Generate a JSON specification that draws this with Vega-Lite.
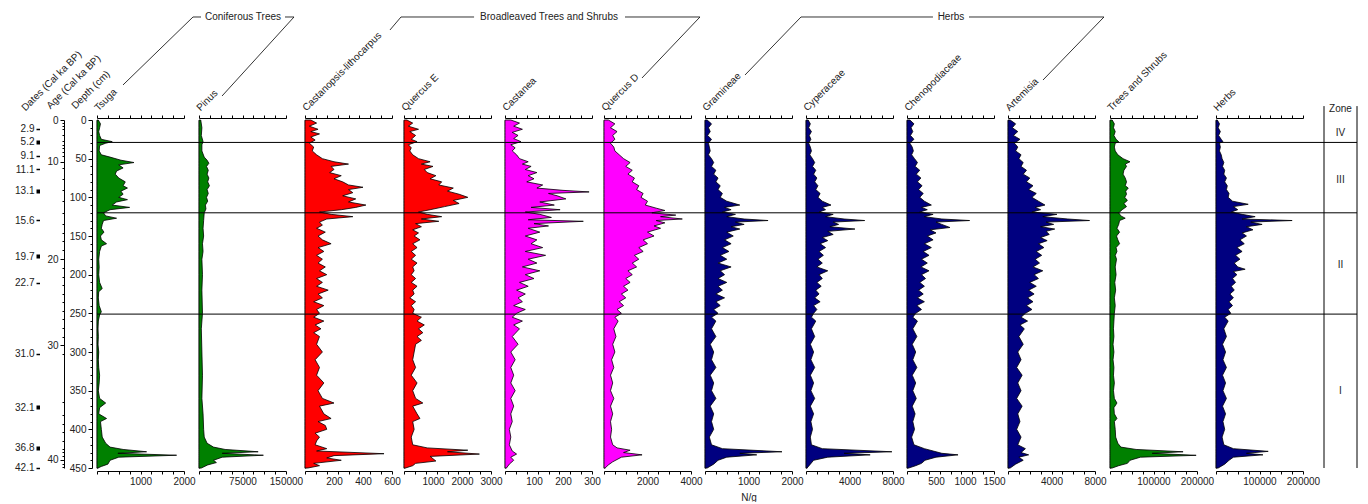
{
"$schema": "https://vega.github.io/schema/vega-lite/v6.json",
"padding": {"left": 14, "top": 11, "right": 4, "bottom": 0},
"config": {
 "view": {"stroke": null},
 "font": "Liberation Sans",
 "axis": {"grid": false, "domainColor": "#000", "tickColor": "#000", "labelFontSize": 10, "titleFontSize": 10, "titleFontWeight": "normal", "labelColor": "#222", "titleColor": "#222", "labelFont": "Liberation Sans", "titleFont": "Liberation Sans", "labelFlush": false, "labelOverlap": false, "labelPadding": 2},
 "text": {"font": "Liberation Sans", "fontSize": 10, "color": "#222"}
},
"datasets": {
 "zones": [{"z": 29}, {"z": 120}, {"z": 251}],
 "Tsuga": [{"d":0,"v":30},{"d":5,"v":80},{"d":10,"v":60},{"d":15,"v":40},{"d":20,"v":60},{"d":25,"v":100},{"d":28,"v":350},{"d":30,"v":200},{"d":33,"v":60},{"d":40,"v":50},{"d":45,"v":100},{"d":48,"v":300},{"d":52,"v":550},{"d":55,"v":850},{"d":58,"v":500},{"d":62,"v":600},{"d":66,"v":450},{"d":70,"v":420},{"d":75,"v":500},{"d":80,"v":650},{"d":85,"v":600},{"d":88,"v":700},{"d":92,"v":550},{"d":96,"v":600},{"d":100,"v":500},{"d":103,"v":700},{"d":106,"v":450},{"d":110,"v":350},{"d":113,"v":750},{"d":116,"v":300},{"d":120,"v":150},{"d":124,"v":200},{"d":127,"v":450},{"d":130,"v":150},{"d":135,"v":120},{"d":140,"v":100},{"d":145,"v":160},{"d":150,"v":80},{"d":155,"v":100},{"d":160,"v":220},{"d":163,"v":100},{"d":170,"v":60},{"d":180,"v":40},{"d":190,"v":50},{"d":200,"v":40},{"d":210,"v":60},{"d":218,"v":120},{"d":222,"v":40},{"d":230,"v":30},{"d":240,"v":50},{"d":248,"v":100},{"d":252,"v":60},{"d":260,"v":30},{"d":270,"v":20},{"d":280,"v":30},{"d":290,"v":20},{"d":300,"v":40},{"d":310,"v":30},{"d":320,"v":40},{"d":330,"v":60},{"d":340,"v":50},{"d":350,"v":30},{"d":360,"v":60},{"d":366,"v":200},{"d":372,"v":60},{"d":380,"v":40},{"d":386,"v":220},{"d":390,"v":80},{"d":400,"v":100},{"d":410,"v":120},{"d":418,"v":200},{"d":423,"v":300},{"d":426,"v":600},{"d":429,"v":1140},{"d":431,"v":480},{"d":433.5,"v":1830},{"d":436,"v":500},{"d":440,"v":300},{"d":445,"v":250},{"d":448,"v":100},{"d":450,"v":20}],
 "Pinus": [{"d":0,"v":3000},{"d":10,"v":5000},{"d":20,"v":4000},{"d":28,"v":7000},{"d":32,"v":5000},{"d":40,"v":5000},{"d":48,"v":9000},{"d":52,"v":14000},{"d":56,"v":17000},{"d":60,"v":13000},{"d":65,"v":16000},{"d":70,"v":14000},{"d":75,"v":17000},{"d":80,"v":15000},{"d":85,"v":18000},{"d":90,"v":14000},{"d":95,"v":16000},{"d":100,"v":13000},{"d":105,"v":15000},{"d":110,"v":11000},{"d":115,"v":12000},{"d":120,"v":9000},{"d":130,"v":8000},{"d":140,"v":7000},{"d":150,"v":8000},{"d":160,"v":6000},{"d":170,"v":7000},{"d":180,"v":5000},{"d":200,"v":6000},{"d":220,"v":5000},{"d":250,"v":6000},{"d":270,"v":4000},{"d":300,"v":5000},{"d":330,"v":6000},{"d":360,"v":5000},{"d":380,"v":7000},{"d":400,"v":8000},{"d":410,"v":9000},{"d":418,"v":14000},{"d":423,"v":25000},{"d":426,"v":45000},{"d":429,"v":102000},{"d":431,"v":40000},{"d":433.5,"v":111000},{"d":436,"v":40000},{"d":440,"v":25000},{"d":443,"v":30000},{"d":446,"v":15000},{"d":450,"v":4000}],
 "Castanopsis": [{"d":0,"v":40},{"d":4,"v":80},{"d":8,"v":30},{"d":12,"v":90},{"d":15,"v":40},{"d":18,"v":100},{"d":22,"v":40},{"d":26,"v":70},{"d":30,"v":30},{"d":35,"v":60},{"d":40,"v":50},{"d":45,"v":80},{"d":50,"v":120},{"d":54,"v":200},{"d":57,"v":300},{"d":60,"v":180},{"d":64,"v":200},{"d":68,"v":170},{"d":72,"v":250},{"d":76,"v":200},{"d":80,"v":260},{"d":84,"v":300},{"d":87,"v":400},{"d":90,"v":300},{"d":94,"v":330},{"d":98,"v":260},{"d":102,"v":350},{"d":106,"v":300},{"d":110,"v":420},{"d":113,"v":350},{"d":116,"v":250},{"d":119,"v":100},{"d":122,"v":180},{"d":125,"v":330},{"d":128,"v":150},{"d":132,"v":100},{"d":136,"v":120},{"d":140,"v":80},{"d":145,"v":140},{"d":150,"v":90},{"d":155,"v":120},{"d":160,"v":180},{"d":165,"v":90},{"d":170,"v":130},{"d":175,"v":80},{"d":180,"v":120},{"d":185,"v":90},{"d":190,"v":140},{"d":195,"v":100},{"d":200,"v":150},{"d":205,"v":80},{"d":210,"v":120},{"d":215,"v":80},{"d":220,"v":160},{"d":225,"v":90},{"d":230,"v":120},{"d":235,"v":60},{"d":240,"v":130},{"d":245,"v":80},{"d":250,"v":100},{"d":255,"v":60},{"d":260,"v":130},{"d":265,"v":70},{"d":270,"v":110},{"d":275,"v":60},{"d":280,"v":100},{"d":290,"v":80},{"d":300,"v":120},{"d":310,"v":70},{"d":320,"v":100},{"d":330,"v":80},{"d":340,"v":130},{"d":350,"v":90},{"d":360,"v":120},{"d":366,"v":200},{"d":370,"v":100},{"d":380,"v":130},{"d":386,"v":180},{"d":390,"v":90},{"d":395,"v":140},{"d":400,"v":150},{"d":405,"v":70},{"d":410,"v":100},{"d":415,"v":80},{"d":420,"v":70},{"d":425,"v":150},{"d":428,"v":80},{"d":431.5,"v":545},{"d":434,"v":200},{"d":437,"v":150},{"d":440,"v":250},{"d":444,"v":60},{"d":447,"v":100},{"d":450,"v":20}],
 "QuercusE": [{"d":0,"v":100},{"d":4,"v":300},{"d":8,"v":150},{"d":12,"v":500},{"d":15,"v":200},{"d":20,"v":400},{"d":25,"v":250},{"d":28,"v":450},{"d":32,"v":150},{"d":36,"v":250},{"d":40,"v":200},{"d":45,"v":300},{"d":50,"v":500},{"d":54,"v":900},{"d":57,"v":600},{"d":60,"v":1000},{"d":64,"v":700},{"d":68,"v":800},{"d":72,"v":1100},{"d":76,"v":900},{"d":80,"v":1300},{"d":84,"v":1200},{"d":88,"v":1700},{"d":92,"v":1500},{"d":96,"v":1900},{"d":100,"v":2200},{"d":104,"v":1700},{"d":108,"v":1900},{"d":112,"v":1400},{"d":116,"v":900},{"d":119,"v":500},{"d":122,"v":800},{"d":125,"v":1300},{"d":128,"v":600},{"d":131,"v":1200},{"d":134,"v":400},{"d":138,"v":600},{"d":142,"v":300},{"d":146,"v":500},{"d":150,"v":350},{"d":155,"v":550},{"d":160,"v":300},{"d":165,"v":450},{"d":170,"v":250},{"d":175,"v":400},{"d":180,"v":250},{"d":185,"v":450},{"d":190,"v":300},{"d":195,"v":350},{"d":200,"v":250},{"d":205,"v":400},{"d":210,"v":250},{"d":215,"v":450},{"d":220,"v":300},{"d":225,"v":350},{"d":230,"v":200},{"d":235,"v":400},{"d":240,"v":250},{"d":245,"v":350},{"d":250,"v":300},{"d":255,"v":600},{"d":260,"v":450},{"d":265,"v":700},{"d":270,"v":500},{"d":275,"v":650},{"d":280,"v":450},{"d":285,"v":600},{"d":290,"v":400},{"d":300,"v":350},{"d":310,"v":300},{"d":320,"v":400},{"d":330,"v":250},{"d":340,"v":450},{"d":350,"v":300},{"d":360,"v":400},{"d":366,"v":650},{"d":370,"v":300},{"d":380,"v":450},{"d":386,"v":550},{"d":390,"v":300},{"d":400,"v":350},{"d":410,"v":250},{"d":420,"v":300},{"d":424,"v":800},{"d":427,"v":2200},{"d":429,"v":1500},{"d":432,"v":2600},{"d":435,"v":900},{"d":438,"v":1000},{"d":441,"v":1100},{"d":444,"v":400},{"d":447,"v":300},{"d":450,"v":50}],
 "Castanea": [{"d":0,"v":20},{"d":4,"v":50},{"d":8,"v":30},{"d":12,"v":60},{"d":16,"v":25},{"d":20,"v":45},{"d":24,"v":30},{"d":28,"v":55},{"d":32,"v":20},{"d":36,"v":35},{"d":40,"v":25},{"d":45,"v":40},{"d":50,"v":50},{"d":54,"v":80},{"d":57,"v":60},{"d":60,"v":90},{"d":64,"v":70},{"d":68,"v":110},{"d":72,"v":80},{"d":76,"v":100},{"d":80,"v":75},{"d":84,"v":130},{"d":88,"v":110},{"d":91,"v":200},{"d":93,"v":290},{"d":95,"v":150},{"d":98,"v":180},{"d":102,"v":210},{"d":106,"v":120},{"d":110,"v":170},{"d":113,"v":90},{"d":116,"v":190},{"d":119,"v":70},{"d":122,"v":120},{"d":126,"v":160},{"d":129,"v":80},{"d":131,"v":270},{"d":134,"v":100},{"d":137,"v":150},{"d":140,"v":80},{"d":145,"v":120},{"d":150,"v":70},{"d":155,"v":110},{"d":160,"v":90},{"d":165,"v":130},{"d":170,"v":70},{"d":175,"v":140},{"d":180,"v":80},{"d":185,"v":110},{"d":190,"v":60},{"d":195,"v":120},{"d":200,"v":70},{"d":205,"v":100},{"d":210,"v":50},{"d":215,"v":80},{"d":220,"v":40},{"d":225,"v":70},{"d":230,"v":45},{"d":235,"v":60},{"d":240,"v":30},{"d":245,"v":70},{"d":250,"v":40},{"d":255,"v":25},{"d":260,"v":60},{"d":265,"v":30},{"d":270,"v":50},{"d":280,"v":25},{"d":290,"v":45},{"d":300,"v":20},{"d":310,"v":35},{"d":320,"v":20},{"d":330,"v":30},{"d":340,"v":20},{"d":350,"v":35},{"d":360,"v":20},{"d":370,"v":30},{"d":380,"v":20},{"d":390,"v":25},{"d":400,"v":15},{"d":410,"v":20},{"d":420,"v":15},{"d":428,"v":25},{"d":432,"v":40},{"d":436,"v":20},{"d":440,"v":30},{"d":445,"v":15},{"d":450,"v":5}],
 "QuercusD": [{"d":0,"v":200},{"d":5,"v":500},{"d":10,"v":300},{"d":15,"v":600},{"d":20,"v":400},{"d":25,"v":500},{"d":30,"v":300},{"d":35,"v":450},{"d":40,"v":500},{"d":45,"v":700},{"d":50,"v":900},{"d":55,"v":1200},{"d":60,"v":1000},{"d":65,"v":1300},{"d":70,"v":1100},{"d":75,"v":1400},{"d":80,"v":1300},{"d":85,"v":1600},{"d":90,"v":1500},{"d":95,"v":1800},{"d":100,"v":1700},{"d":105,"v":2000},{"d":110,"v":1900},{"d":114,"v":2400},{"d":117,"v":2800},{"d":120,"v":2200},{"d":123,"v":3300},{"d":125,"v":2600},{"d":128,"v":3600},{"d":130,"v":2400},{"d":133,"v":2800},{"d":137,"v":2300},{"d":140,"v":2600},{"d":145,"v":2000},{"d":150,"v":2300},{"d":155,"v":1800},{"d":160,"v":2000},{"d":165,"v":1600},{"d":170,"v":1800},{"d":175,"v":1400},{"d":180,"v":1600},{"d":185,"v":1300},{"d":190,"v":1500},{"d":195,"v":1100},{"d":200,"v":1300},{"d":205,"v":1000},{"d":210,"v":1200},{"d":215,"v":900},{"d":220,"v":1100},{"d":225,"v":800},{"d":230,"v":1000},{"d":235,"v":700},{"d":240,"v":900},{"d":245,"v":600},{"d":250,"v":800},{"d":255,"v":500},{"d":260,"v":650},{"d":270,"v":450},{"d":280,"v":550},{"d":290,"v":400},{"d":300,"v":500},{"d":310,"v":350},{"d":320,"v":450},{"d":330,"v":300},{"d":340,"v":400},{"d":350,"v":300},{"d":360,"v":450},{"d":370,"v":300},{"d":380,"v":400},{"d":390,"v":300},{"d":400,"v":350},{"d":410,"v":300},{"d":420,"v":400},{"d":424,"v":600},{"d":427,"v":1200},{"d":430,"v":900},{"d":433,"v":1750},{"d":436,"v":800},{"d":439,"v":600},{"d":442,"v":400},{"d":446,"v":200},{"d":450,"v":50}],
 "Gramineae": [{"d":0,"v":50},{"d":5,"v":150},{"d":10,"v":80},{"d":15,"v":120},{"d":20,"v":60},{"d":25,"v":150},{"d":30,"v":80},{"d":35,"v":100},{"d":40,"v":120},{"d":45,"v":80},{"d":50,"v":150},{"d":55,"v":200},{"d":60,"v":150},{"d":65,"v":250},{"d":70,"v":200},{"d":75,"v":300},{"d":80,"v":250},{"d":85,"v":350},{"d":90,"v":300},{"d":95,"v":400},{"d":100,"v":350},{"d":105,"v":500},{"d":110,"v":800},{"d":113,"v":450},{"d":116,"v":600},{"d":119,"v":400},{"d":122,"v":700},{"d":125,"v":500},{"d":128,"v":900},{"d":130,"v":1450},{"d":132,"v":700},{"d":135,"v":900},{"d":138,"v":600},{"d":141,"v":800},{"d":145,"v":500},{"d":150,"v":650},{"d":155,"v":450},{"d":160,"v":600},{"d":165,"v":400},{"d":170,"v":550},{"d":175,"v":350},{"d":180,"v":500},{"d":185,"v":300},{"d":190,"v":600},{"d":195,"v":350},{"d":200,"v":450},{"d":205,"v":300},{"d":210,"v":500},{"d":215,"v":300},{"d":220,"v":400},{"d":225,"v":250},{"d":230,"v":450},{"d":235,"v":250},{"d":240,"v":350},{"d":245,"v":200},{"d":250,"v":300},{"d":255,"v":150},{"d":260,"v":250},{"d":270,"v":150},{"d":280,"v":250},{"d":290,"v":120},{"d":300,"v":200},{"d":310,"v":150},{"d":320,"v":250},{"d":330,"v":120},{"d":340,"v":200},{"d":350,"v":150},{"d":360,"v":250},{"d":370,"v":120},{"d":380,"v":200},{"d":390,"v":150},{"d":400,"v":200},{"d":410,"v":100},{"d":420,"v":150},{"d":425,"v":400},{"d":429,"v":1770},{"d":431,"v":800},{"d":433,"v":1190},{"d":436,"v":500},{"d":440,"v":300},{"d":445,"v":200},{"d":450,"v":50}],
 "Cyperaceae": [{"d":0,"v":200},{"d":5,"v":400},{"d":10,"v":250},{"d":15,"v":500},{"d":20,"v":300},{"d":25,"v":450},{"d":30,"v":250},{"d":35,"v":400},{"d":40,"v":500},{"d":45,"v":350},{"d":50,"v":600},{"d":55,"v":800},{"d":60,"v":600},{"d":65,"v":900},{"d":70,"v":700},{"d":75,"v":1000},{"d":80,"v":800},{"d":85,"v":1100},{"d":90,"v":900},{"d":95,"v":1300},{"d":100,"v":1100},{"d":105,"v":1500},{"d":110,"v":2300},{"d":113,"v":1500},{"d":116,"v":1800},{"d":119,"v":1200},{"d":122,"v":2500},{"d":125,"v":1800},{"d":128,"v":3500},{"d":130,"v":5400},{"d":132,"v":2500},{"d":135,"v":3000},{"d":138,"v":2200},{"d":141,"v":4500},{"d":144,"v":2000},{"d":148,"v":2500},{"d":152,"v":1500},{"d":156,"v":2000},{"d":160,"v":1300},{"d":165,"v":1800},{"d":170,"v":1200},{"d":175,"v":1600},{"d":180,"v":1100},{"d":185,"v":1500},{"d":190,"v":1000},{"d":195,"v":2000},{"d":200,"v":1200},{"d":205,"v":1500},{"d":210,"v":1000},{"d":215,"v":1400},{"d":220,"v":900},{"d":225,"v":1200},{"d":230,"v":800},{"d":235,"v":1300},{"d":240,"v":700},{"d":245,"v":1000},{"d":250,"v":700},{"d":255,"v":500},{"d":260,"v":900},{"d":270,"v":500},{"d":280,"v":800},{"d":290,"v":400},{"d":300,"v":700},{"d":310,"v":450},{"d":320,"v":800},{"d":330,"v":400},{"d":340,"v":700},{"d":350,"v":450},{"d":360,"v":800},{"d":370,"v":400},{"d":380,"v":700},{"d":390,"v":450},{"d":400,"v":600},{"d":410,"v":400},{"d":420,"v":500},{"d":425,"v":1500},{"d":429,"v":7900},{"d":431,"v":3500},{"d":433,"v":5900},{"d":436,"v":2000},{"d":440,"v":700},{"d":445,"v":400},{"d":450,"v":100}],
 "Chenopodiaceae": [{"d":0,"v":50},{"d":5,"v":120},{"d":10,"v":70},{"d":15,"v":100},{"d":20,"v":60},{"d":25,"v":120},{"d":30,"v":50},{"d":35,"v":90},{"d":40,"v":110},{"d":45,"v":80},{"d":50,"v":130},{"d":55,"v":180},{"d":60,"v":140},{"d":65,"v":220},{"d":70,"v":160},{"d":75,"v":240},{"d":80,"v":180},{"d":85,"v":260},{"d":90,"v":200},{"d":95,"v":280},{"d":100,"v":220},{"d":105,"v":300},{"d":110,"v":420},{"d":113,"v":250},{"d":116,"v":350},{"d":119,"v":220},{"d":122,"v":450},{"d":125,"v":300},{"d":128,"v":600},{"d":130,"v":1080},{"d":132,"v":500},{"d":135,"v":600},{"d":139,"v":740},{"d":142,"v":400},{"d":146,"v":500},{"d":150,"v":350},{"d":155,"v":450},{"d":160,"v":300},{"d":165,"v":420},{"d":170,"v":280},{"d":175,"v":380},{"d":180,"v":250},{"d":185,"v":350},{"d":190,"v":240},{"d":195,"v":380},{"d":200,"v":250},{"d":205,"v":320},{"d":210,"v":220},{"d":215,"v":300},{"d":220,"v":200},{"d":225,"v":280},{"d":230,"v":180},{"d":235,"v":300},{"d":240,"v":170},{"d":245,"v":250},{"d":250,"v":150},{"d":255,"v":100},{"d":260,"v":180},{"d":270,"v":100},{"d":280,"v":170},{"d":290,"v":90},{"d":300,"v":150},{"d":310,"v":100},{"d":320,"v":170},{"d":330,"v":90},{"d":340,"v":150},{"d":350,"v":100},{"d":360,"v":160},{"d":370,"v":90},{"d":380,"v":140},{"d":390,"v":100},{"d":400,"v":130},{"d":410,"v":80},{"d":420,"v":120},{"d":425,"v":300},{"d":428,"v":450},{"d":431,"v":600},{"d":433,"v":880},{"d":436,"v":500},{"d":440,"v":310},{"d":444,"v":250},{"d":447,"v":150},{"d":450,"v":30}],
 "Artemisia": [{"d":0,"v":200},{"d":5,"v":700},{"d":10,"v":400},{"d":15,"v":900},{"d":20,"v":500},{"d":25,"v":1100},{"d":30,"v":600},{"d":35,"v":900},{"d":40,"v":700},{"d":45,"v":1200},{"d":50,"v":1000},{"d":55,"v":1400},{"d":60,"v":1200},{"d":65,"v":1700},{"d":70,"v":1400},{"d":75,"v":2000},{"d":80,"v":1700},{"d":85,"v":2300},{"d":90,"v":1900},{"d":95,"v":2600},{"d":100,"v":2200},{"d":105,"v":2800},{"d":110,"v":3400},{"d":113,"v":2500},{"d":116,"v":3000},{"d":119,"v":2200},{"d":122,"v":4500},{"d":125,"v":3200},{"d":128,"v":5500},{"d":130,"v":7500},{"d":132,"v":3500},{"d":135,"v":4200},{"d":138,"v":3000},{"d":141,"v":4300},{"d":144,"v":3500},{"d":148,"v":3800},{"d":152,"v":3000},{"d":156,"v":3600},{"d":160,"v":2800},{"d":165,"v":3300},{"d":170,"v":2600},{"d":175,"v":3100},{"d":180,"v":2500},{"d":185,"v":2900},{"d":190,"v":2300},{"d":195,"v":3200},{"d":200,"v":2400},{"d":205,"v":2800},{"d":210,"v":2000},{"d":215,"v":2600},{"d":220,"v":1900},{"d":225,"v":2400},{"d":230,"v":1800},{"d":235,"v":2300},{"d":240,"v":1700},{"d":245,"v":2200},{"d":250,"v":1600},{"d":255,"v":1200},{"d":260,"v":1800},{"d":265,"v":1100},{"d":270,"v":1500},{"d":280,"v":1000},{"d":290,"v":1400},{"d":300,"v":900},{"d":310,"v":1200},{"d":320,"v":800},{"d":330,"v":1300},{"d":340,"v":900},{"d":350,"v":1200},{"d":360,"v":800},{"d":370,"v":1300},{"d":380,"v":900},{"d":390,"v":1100},{"d":400,"v":800},{"d":410,"v":1200},{"d":420,"v":900},{"d":425,"v":1600},{"d":430,"v":1200},{"d":433,"v":1900},{"d":436,"v":1000},{"d":440,"v":1400},{"d":445,"v":700},{"d":450,"v":200}],
 "TreesShrubs": [{"d":0,"v":5000},{"d":5,"v":10000},{"d":10,"v":8000},{"d":15,"v":12000},{"d":20,"v":9000},{"d":25,"v":14000},{"d":28,"v":20000},{"d":30,"v":12000},{"d":35,"v":10000},{"d":40,"v":12000},{"d":45,"v":18000},{"d":50,"v":30000},{"d":54,"v":46000},{"d":57,"v":35000},{"d":60,"v":38000},{"d":65,"v":32000},{"d":70,"v":30000},{"d":75,"v":35000},{"d":80,"v":38000},{"d":85,"v":35000},{"d":88,"v":42000},{"d":92,"v":36000},{"d":96,"v":38000},{"d":100,"v":34000},{"d":104,"v":40000},{"d":108,"v":32000},{"d":112,"v":38000},{"d":116,"v":28000},{"d":120,"v":20000},{"d":124,"v":25000},{"d":127,"v":35000},{"d":130,"v":22000},{"d":135,"v":20000},{"d":140,"v":16000},{"d":145,"v":22000},{"d":150,"v":15000},{"d":155,"v":18000},{"d":160,"v":22000},{"d":165,"v":14000},{"d":170,"v":16000},{"d":175,"v":12000},{"d":180,"v":15000},{"d":190,"v":12000},{"d":200,"v":14000},{"d":210,"v":11000},{"d":220,"v":13000},{"d":230,"v":10000},{"d":240,"v":12000},{"d":250,"v":10000},{"d":260,"v":9000},{"d":270,"v":8000},{"d":280,"v":9000},{"d":290,"v":7000},{"d":300,"v":9000},{"d":310,"v":7000},{"d":320,"v":9000},{"d":330,"v":8000},{"d":340,"v":10000},{"d":350,"v":8000},{"d":360,"v":10000},{"d":366,"v":16000},{"d":372,"v":9000},{"d":380,"v":10000},{"d":386,"v":16000},{"d":390,"v":10000},{"d":400,"v":12000},{"d":410,"v":13000},{"d":418,"v":18000},{"d":423,"v":25000},{"d":426,"v":60000},{"d":429,"v":168000},{"d":431,"v":97000},{"d":433.6,"v":198000},{"d":436,"v":70000},{"d":440,"v":46000},{"d":444,"v":40000},{"d":447,"v":20000},{"d":450,"v":5000}],
 "Herbs": [{"d":0,"v":3000},{"d":5,"v":8000},{"d":10,"v":5000},{"d":15,"v":10000},{"d":20,"v":6000},{"d":25,"v":12000},{"d":28,"v":16000},{"d":30,"v":8000},{"d":35,"v":10000},{"d":40,"v":8000},{"d":45,"v":12000},{"d":50,"v":14000},{"d":55,"v":18000},{"d":60,"v":15000},{"d":65,"v":20000},{"d":70,"v":18000},{"d":75,"v":24000},{"d":80,"v":20000},{"d":85,"v":26000},{"d":90,"v":24000},{"d":95,"v":30000},{"d":100,"v":28000},{"d":105,"v":38000},{"d":109,"v":74000},{"d":112,"v":40000},{"d":116,"v":50000},{"d":119,"v":35000},{"d":122,"v":60000},{"d":125,"v":90000},{"d":128,"v":60000},{"d":130,"v":175000},{"d":132,"v":80000},{"d":135,"v":106000},{"d":138,"v":70000},{"d":142,"v":85000},{"d":146,"v":60000},{"d":150,"v":70000},{"d":155,"v":55000},{"d":160,"v":65000},{"d":165,"v":48000},{"d":170,"v":60000},{"d":175,"v":45000},{"d":180,"v":55000},{"d":185,"v":42000},{"d":190,"v":50000},{"d":193,"v":67000},{"d":196,"v":40000},{"d":200,"v":48000},{"d":205,"v":38000},{"d":210,"v":45000},{"d":215,"v":35000},{"d":220,"v":42000},{"d":225,"v":32000},{"d":230,"v":40000},{"d":235,"v":30000},{"d":240,"v":38000},{"d":245,"v":28000},{"d":250,"v":34000},{"d":255,"v":20000},{"d":260,"v":28000},{"d":270,"v":18000},{"d":280,"v":24000},{"d":290,"v":15000},{"d":300,"v":22000},{"d":310,"v":16000},{"d":320,"v":24000},{"d":330,"v":15000},{"d":340,"v":22000},{"d":350,"v":16000},{"d":360,"v":24000},{"d":370,"v":15000},{"d":380,"v":22000},{"d":390,"v":16000},{"d":400,"v":20000},{"d":410,"v":14000},{"d":420,"v":18000},{"d":425,"v":40000},{"d":428.5,"v":120000},{"d":431,"v":70000},{"d":433,"v":108000},{"d":436,"v":40000},{"d":440,"v":30000},{"d":445,"v":20000},{"d":450,"v":5000}]
},
"spacing": 0,
"bounds": "flush",
"hconcat": [
 {"width": 102, "height": 348, "data": {"name": "Tsuga"},
  "layer": [
   {"mark": {"type": "area", "orient": "horizontal", "color": "#008000", "stroke": "black", "strokeWidth": 0.8},
    "encoding": {
     "x": {"field": "v", "type": "quantitative", "stack": null, "scale": {"domain": [0, 2000], "range": [0, 87], "nice": false}, "axis": {"orient": "bottom", "offset": 3, "values": [0,250,500,750,1000,1250,1500,1750,2000], "labels": false, "tickSize": 3, "title": null}},
     "y": {"field": "d", "type": "quantitative", "scale": {"domain": [0, 450], "reverse": true, "nice": false, "zero": false}, "axis": {"orient": "left", "offset": 5, "values": [0,10,20,30,40,50,60,70,80,90,100,110,120,130,140,150,160,170,180,190,200,210,220,230,240,250,260,270,280,290,300,310,320,330,340,350,360,370,380,390,400,410,420,430,440,450], "labelExpr": "datum.value % 50 === 0 ? datum.label : ''", "tickSize": {"condition": {"test": "datum.value % 50 === 0", "value": 4}, "value": 2}, "title": "Depth (cm)", "titleAngle": -45, "titleAlign": "left", "titleBaseline": "alphabetic", "titleX": -17, "titleY": -11}}}},
   {"mark": {"type": "point", "opacity": 0},
    "encoding": {
     "x": {"field": "v", "type": "quantitative", "scale": {"domain": [0, 2000], "range": [0, 87], "nice": false}, "axis": {"orient": "bottom", "offset": 3, "values": [1000, 2000], "domain": false, "tickOpacity": 0, "tickSize": 3, "format": "d", "title": null}},
     "y": {"field": "d", "type": "quantitative", "scale": {"domain": [0, 450], "reverse": true, "nice": false, "zero": false}, "axis": {"orient": "left", "offset": 33, "values": [0,4,7.9,12.2,19.4,26.6,31.8,36.5,41.3,46,54.2,62.7,76.1,90.1,105.2,120.4,134.1,145.5,157,168.5,179.9,191.2,202.6,213.8,224.8,235.9,246.9,257.9,268.9,280,291,302,365.2,381.5,392.7,403.9,415.1,425,429.8,434.6,439.4,444.2,449], "labelExpr": "indexof([0,54.2,179.9,291,439.4], datum.value) >= 0 ? '' + 10 * indexof([0,54.2,179.9,291,439.4], datum.value) : ''", "tickSize": {"condition": {"test": "indexof([0,54.2,179.9,291,439.4], datum.value) >= 0", "value": 4}, "value": 2}, "title": "Age (Cal ka BP)", "titleAngle": -45, "titleAlign": "left", "titleBaseline": "alphabetic", "titleX": -14, "titleY": -11}}}},
   {"mark": {"type": "point", "opacity": 0},
    "encoding": {
     "x": {"field": "v", "type": "quantitative", "scale": {"domain": [0, 2000], "range": [0, 87], "nice": false}, "axis": {"orient": "top", "offset": 2, "values": [0,250,500,750,1000,1250,1500,1750,2000], "labels": false, "tickSize": 3, "title": "Tsuga", "titleAngle": -45, "titleAlign": "left", "titleBaseline": "alphabetic", "titleX": 1, "titleY": -7}},
     "y": {"field": "d", "type": "quantitative", "scale": {"domain": [0, 450], "reverse": true, "nice": false, "zero": false}, "axis": {"orient": "left", "offset": 57.5, "domain": false, "values": [11.5,28,46.5,63.5,91.5,129.5,176.5,210.5,302,371.5,424,449.5], "labelExpr": "['2.9','5.2','9.1','11.1','13.1','15.6','19.7','22.7','31.0','32.1','36.8','42.1'][indexof([11.5,28,46.5,63.5,91.5,129.5,176.5,210.5,302,371.5,424,449.5], datum.value)]", "tickSize": 3.5, "tickWidth": {"condition": {"test": "indexof([28,91.5,176.5,371.5,424], datum.value) >= 0", "value": 4}, "value": 1.5}, "title": "Dates (Cal ka BP)", "titleAngle": -45, "titleAlign": "left", "titleBaseline": "alphabetic", "titleX": -14.5, "titleY": -9}}}},
   {"data": {"name": "zones"}, "mark": {"type": "rule", "color": "black", "strokeWidth": 1},
    "encoding": {"y": {"field": "z", "type": "quantitative", "scale": {"domain": [0, 450], "reverse": true, "nice": false, "zero": false}, "axis": {"orient": "left", "domainWidth": 1.5, "ticks": false, "labels": false, "title": null}}}},
   {"data": {"values": [{"g":1,"o":1,"x":598,"y":-45.3},{"g":1,"o":2,"x":2207,"y":-133.2},{"g":1,"o":3,"x":2391,"y":-133.2},{"g":2,"o":1,"x":4322,"y":-133.2},{"g":2,"o":2,"x":4529,"y":-133.2},{"g":2,"o":3,"x":2874,"y":-31}]},
    "mark": {"type": "line", "color": "black", "strokeWidth": 0.8},
    "encoding": {"x": {"field": "x", "type": "quantitative", "scale": {"domain": [0, 2000], "range": [0, 87], "nice": false}, "axis": null}, "y": {"field": "y", "type": "quantitative", "scale": {"domain": [0, 450], "reverse": true, "nice": false, "zero": false}, "axis": null}, "detail": {"field": "g"}, "order": {"field": "o"}}},
   {"data": {"values": [{"x": 3356, "y": -133.2, "t": "Coniferous Trees"}]},
    "mark": {"type": "text", "align": "center", "baseline": "middle"},
    "encoding": {"x": {"field": "x", "type": "quantitative", "scale": {"domain": [0, 2000], "range": [0, 87], "nice": false}, "axis": null}, "y": {"field": "y", "type": "quantitative", "scale": {"domain": [0, 450], "reverse": true, "nice": false, "zero": false}, "axis": null}, "text": {"field": "t"}}}
  ],
  "resolve": {"axis": {"x": "independent", "y": "independent"}}},

 {"width": 106, "height": 348, "data": {"name": "Pinus"},
  "layer": [
   {"mark": {"type": "area", "orient": "horizontal", "color": "#008000", "stroke": "black", "strokeWidth": 0.8},
    "encoding": {"x": {"field": "v", "type": "quantitative", "stack": null, "scale": {"domain": [0, 150000], "range": [0, 87], "nice": false}, "axis": {"orient": "bottom", "offset": 3, "values": [0,18750,37500,56250,75000,93750,112500,131250,150000], "labels": false, "tickSize": 3, "title": null}},
     "y": {"field": "d", "type": "quantitative", "scale": {"domain": [0, 450], "reverse": true, "nice": false, "zero": false}, "axis": {"orient": "left", "domainWidth": 1.5, "ticks": false, "labels": false, "title": null}}}},
   {"mark": {"type": "point", "opacity": 0},
    "encoding": {"x": {"field": "v", "type": "quantitative", "scale": {"domain": [0, 150000], "range": [0, 87], "nice": false}, "axis": {"orient": "bottom", "offset": 3, "values": [75000, 150000], "domain": false, "tickOpacity": 0, "tickSize": 3, "format": "d", "title": null}},
     "y": {"field": "d", "type": "quantitative", "scale": {"domain": [0, 450], "reverse": true, "nice": false, "zero": false}, "axis": null}}},
   {"mark": {"type": "point", "opacity": 0},
    "encoding": {"x": {"field": "v", "type": "quantitative", "scale": {"domain": [0, 150000], "range": [0, 87], "nice": false}, "axis": {"orient": "top", "offset": 2, "values": [0,18750,37500,56250,75000,93750,112500,131250,150000], "labels": false, "tickSize": 3, "title": "Pinus", "titleAngle": -45, "titleAlign": "left", "titleBaseline": "alphabetic", "titleX": 1, "titleY": -7}},
     "y": {"field": "d", "type": "quantitative", "scale": {"domain": [0, 450], "reverse": true, "nice": false, "zero": false}, "axis": null}}},
   {"data": {"name": "zones"}, "mark": {"type": "rule", "color": "black", "strokeWidth": 1},
    "encoding": {"y": {"field": "z", "type": "quantitative", "scale": {"domain": [0, 450], "reverse": true, "nice": false, "zero": false}, "axis": null}}}
  ],
  "resolve": {"axis": {"x": "independent", "y": "independent"}}},

 {"width": 99, "height": 348, "data": {"name": "Castanopsis"},
  "layer": [
   {"mark": {"type": "area", "orient": "horizontal", "color": "#ff0000", "stroke": "black", "strokeWidth": 0.8},
    "encoding": {"x": {"field": "v", "type": "quantitative", "stack": null, "scale": {"domain": [0, 600], "range": [0, 87], "nice": false}, "axis": {"orient": "bottom", "offset": 3, "values": [0,75,150,225,300,375,450,525,600], "labels": false, "tickSize": 3, "title": null}},
     "y": {"field": "d", "type": "quantitative", "scale": {"domain": [0, 450], "reverse": true, "nice": false, "zero": false}, "axis": {"orient": "left", "domainWidth": 1.5, "ticks": false, "labels": false, "title": null}}}},
   {"mark": {"type": "point", "opacity": 0},
    "encoding": {"x": {"field": "v", "type": "quantitative", "scale": {"domain": [0, 600], "range": [0, 87], "nice": false}, "axis": {"orient": "bottom", "offset": 3, "values": [200, 400, 600], "domain": false, "tickOpacity": 0, "tickSize": 3, "format": "d", "title": null}},
     "y": {"field": "d", "type": "quantitative", "scale": {"domain": [0, 450], "reverse": true, "nice": false, "zero": false}, "axis": null}}},
   {"mark": {"type": "point", "opacity": 0},
    "encoding": {"x": {"field": "v", "type": "quantitative", "scale": {"domain": [0, 600], "range": [0, 87], "nice": false}, "axis": {"orient": "top", "offset": 2, "values": [0,75,150,225,300,375,450,525,600], "labels": false, "tickSize": 3, "title": "Castanopsis-lithocarpus", "titleAngle": -45, "titleAlign": "left", "titleBaseline": "alphabetic", "titleX": 1, "titleY": -7}},
     "y": {"field": "d", "type": "quantitative", "scale": {"domain": [0, 450], "reverse": true, "nice": false, "zero": false}, "axis": null}}},
   {"data": {"name": "zones"}, "mark": {"type": "rule", "color": "black", "strokeWidth": 1},
    "encoding": {"y": {"field": "z", "type": "quantitative", "scale": {"domain": [0, 450], "reverse": true, "nice": false, "zero": false}, "axis": null}}},
   {"data": {"values": [{"g":1,"o":1,"x":586,"y":-116.4},{"g":1,"o":2,"x":662,"y":-133.2},{"g":1,"o":3,"x":1166,"y":-133.2},{"g":2,"o":1,"x":2207,"y":-133.2},{"g":2,"o":2,"x":2724,"y":-133.2},{"g":2,"o":3,"x":2324,"y":-54.3}]},
    "mark": {"type": "line", "color": "black", "strokeWidth": 0.8},
    "encoding": {"x": {"field": "x", "type": "quantitative", "scale": {"domain": [0, 600], "range": [0, 87], "nice": false}, "axis": null}, "y": {"field": "y", "type": "quantitative", "scale": {"domain": [0, 450], "reverse": true, "nice": false, "zero": false}, "axis": null}, "detail": {"field": "g"}, "order": {"field": "o"}}},
   {"data": {"values": [{"x": 1683, "y": -133.2, "t": "Broadleaved Trees and Shrubs"}]},
    "mark": {"type": "text", "align": "center", "baseline": "middle"},
    "encoding": {"x": {"field": "x", "type": "quantitative", "scale": {"domain": [0, 600], "range": [0, 87], "nice": false}, "axis": null}, "y": {"field": "y", "type": "quantitative", "scale": {"domain": [0, 450], "reverse": true, "nice": false, "zero": false}, "axis": null}, "text": {"field": "t"}}}
  ],
  "resolve": {"axis": {"x": "independent", "y": "independent"}}},

 {"width": 101, "height": 348, "data": {"name": "QuercusE"},
  "layer": [
   {"mark": {"type": "area", "orient": "horizontal", "color": "#ff0000", "stroke": "black", "strokeWidth": 0.8},
    "encoding": {"x": {"field": "v", "type": "quantitative", "stack": null, "scale": {"domain": [0, 3000], "range": [0, 87], "nice": false}, "axis": {"orient": "bottom", "offset": 3, "values": [0,375,750,1125,1500,1875,2250,2625,3000], "labels": false, "tickSize": 3, "title": null}},
     "y": {"field": "d", "type": "quantitative", "scale": {"domain": [0, 450], "reverse": true, "nice": false, "zero": false}, "axis": {"orient": "left", "domainWidth": 1.5, "ticks": false, "labels": false, "title": null}}}},
   {"mark": {"type": "point", "opacity": 0},
    "encoding": {"x": {"field": "v", "type": "quantitative", "scale": {"domain": [0, 3000], "range": [0, 87], "nice": false}, "axis": {"orient": "bottom", "offset": 3, "values": [1000, 2000, 3000], "domain": false, "tickOpacity": 0, "tickSize": 3, "format": "d", "title": null}},
     "y": {"field": "d", "type": "quantitative", "scale": {"domain": [0, 450], "reverse": true, "nice": false, "zero": false}, "axis": null}}},
   {"mark": {"type": "point", "opacity": 0},
    "encoding": {"x": {"field": "v", "type": "quantitative", "scale": {"domain": [0, 3000], "range": [0, 87], "nice": false}, "axis": {"orient": "top", "offset": 2, "values": [0,375,750,1125,1500,1875,2250,2625,3000], "labels": false, "tickSize": 3, "title": "Quercus E", "titleAngle": -45, "titleAlign": "left", "titleBaseline": "alphabetic", "titleX": 1, "titleY": -7}},
     "y": {"field": "d", "type": "quantitative", "scale": {"domain": [0, 450], "reverse": true, "nice": false, "zero": false}, "axis": null}}},
   {"data": {"name": "zones"}, "mark": {"type": "rule", "color": "black", "strokeWidth": 1},
    "encoding": {"y": {"field": "z", "type": "quantitative", "scale": {"domain": [0, 450], "reverse": true, "nice": false, "zero": false}, "axis": null}}}
  ],
  "resolve": {"axis": {"x": "independent", "y": "independent"}}},

 {"width": 99, "height": 348, "data": {"name": "Castanea"},
  "layer": [
   {"mark": {"type": "area", "orient": "horizontal", "color": "#ff00ff", "stroke": "black", "strokeWidth": 0.8},
    "encoding": {"x": {"field": "v", "type": "quantitative", "stack": null, "scale": {"domain": [0, 300], "range": [0, 87], "nice": false}, "axis": {"orient": "bottom", "offset": 3, "values": [0,37.5,75,112.5,150,187.5,225,262.5,300], "labels": false, "tickSize": 3, "title": null}},
     "y": {"field": "d", "type": "quantitative", "scale": {"domain": [0, 450], "reverse": true, "nice": false, "zero": false}, "axis": {"orient": "left", "domainWidth": 1.5, "ticks": false, "labels": false, "title": null}}}},
   {"mark": {"type": "point", "opacity": 0},
    "encoding": {"x": {"field": "v", "type": "quantitative", "scale": {"domain": [0, 300], "range": [0, 87], "nice": false}, "axis": {"orient": "bottom", "offset": 3, "values": [100, 200, 300], "domain": false, "tickOpacity": 0, "tickSize": 3, "format": "d", "title": null}},
     "y": {"field": "d", "type": "quantitative", "scale": {"domain": [0, 450], "reverse": true, "nice": false, "zero": false}, "axis": null}}},
   {"mark": {"type": "point", "opacity": 0},
    "encoding": {"x": {"field": "v", "type": "quantitative", "scale": {"domain": [0, 300], "range": [0, 87], "nice": false}, "axis": {"orient": "top", "offset": 2, "values": [0,37.5,75,112.5,150,187.5,225,262.5,300], "labels": false, "tickSize": 3, "title": "Castanea", "titleAngle": -45, "titleAlign": "left", "titleBaseline": "alphabetic", "titleX": 1, "titleY": -7}},
     "y": {"field": "d", "type": "quantitative", "scale": {"domain": [0, 450], "reverse": true, "nice": false, "zero": false}, "axis": null}}},
   {"data": {"name": "zones"}, "mark": {"type": "rule", "color": "black", "strokeWidth": 1},
    "encoding": {"y": {"field": "z", "type": "quantitative", "scale": {"domain": [0, 450], "reverse": true, "nice": false, "zero": false}, "axis": null}}}
  ],
  "resolve": {"axis": {"x": "independent", "y": "independent"}}},

 {"width": 101, "height": 348, "data": {"name": "QuercusD"},
  "layer": [
   {"mark": {"type": "area", "orient": "horizontal", "color": "#ff00ff", "stroke": "black", "strokeWidth": 0.8},
    "encoding": {"x": {"field": "v", "type": "quantitative", "stack": null, "scale": {"domain": [0, 4000], "range": [0, 87], "nice": false}, "axis": {"orient": "bottom", "offset": 3, "values": [0,500,1000,1500,2000,2500,3000,3500,4000], "labels": false, "tickSize": 3, "title": null}},
     "y": {"field": "d", "type": "quantitative", "scale": {"domain": [0, 450], "reverse": true, "nice": false, "zero": false}, "axis": {"orient": "left", "domainWidth": 1.5, "ticks": false, "labels": false, "title": null}}}},
   {"mark": {"type": "point", "opacity": 0},
    "encoding": {"x": {"field": "v", "type": "quantitative", "scale": {"domain": [0, 4000], "range": [0, 87], "nice": false}, "axis": {"orient": "bottom", "offset": 3, "values": [2000, 4000], "domain": false, "tickOpacity": 0, "tickSize": 3, "format": "d", "title": null}},
     "y": {"field": "d", "type": "quantitative", "scale": {"domain": [0, 450], "reverse": true, "nice": false, "zero": false}, "axis": null}}},
   {"mark": {"type": "point", "opacity": 0},
    "encoding": {"x": {"field": "v", "type": "quantitative", "scale": {"domain": [0, 4000], "range": [0, 87], "nice": false}, "axis": {"orient": "top", "offset": 2, "values": [0,500,1000,1500,2000,2500,3000,3500,4000], "labels": false, "tickSize": 3, "title": "Quercus D", "titleAngle": -45, "titleAlign": "left", "titleBaseline": "alphabetic", "titleX": 1, "titleY": -7}},
     "y": {"field": "d", "type": "quantitative", "scale": {"domain": [0, 450], "reverse": true, "nice": false, "zero": false}, "axis": null}}},
   {"data": {"name": "zones"}, "mark": {"type": "rule", "color": "black", "strokeWidth": 1},
    "encoding": {"y": {"field": "z", "type": "quantitative", "scale": {"domain": [0, 450], "reverse": true, "nice": false, "zero": false}, "axis": null}}}
  ],
  "resolve": {"axis": {"x": "independent", "y": "independent"}}},

 {"width": 101, "height": 348, "data": {"name": "Gramineae"},
  "layer": [
   {"mark": {"type": "area", "orient": "horizontal", "color": "#000080", "stroke": "black", "strokeWidth": 0.8},
    "encoding": {"x": {"field": "v", "type": "quantitative", "stack": null, "scale": {"domain": [0, 2000], "range": [0, 87], "nice": false}, "axis": {"orient": "bottom", "offset": 3, "values": [0,250,500,750,1000,1250,1500,1750,2000], "labels": false, "tickSize": 3, "title": null}},
     "y": {"field": "d", "type": "quantitative", "scale": {"domain": [0, 450], "reverse": true, "nice": false, "zero": false}, "axis": {"orient": "left", "domainWidth": 1.5, "ticks": false, "labels": false, "title": null}}}},
   {"mark": {"type": "point", "opacity": 0},
    "encoding": {"x": {"field": "v", "type": "quantitative", "scale": {"domain": [0, 2000], "range": [0, 87], "nice": false}, "axis": {"orient": "bottom", "offset": 3, "values": [1000, 2000], "domain": false, "tickOpacity": 0, "tickSize": 3, "format": "d", "title": "N/g", "titlePadding": 6}},
     "y": {"field": "d", "type": "quantitative", "scale": {"domain": [0, 450], "reverse": true, "nice": false, "zero": false}, "axis": null}}},
   {"mark": {"type": "point", "opacity": 0},
    "encoding": {"x": {"field": "v", "type": "quantitative", "scale": {"domain": [0, 2000], "range": [0, 87], "nice": false}, "axis": {"orient": "top", "offset": 2, "values": [0,250,500,750,1000,1250,1500,1750,2000], "labels": false, "tickSize": 3, "title": "Gramineae", "titleAngle": -45, "titleAlign": "left", "titleBaseline": "alphabetic", "titleX": 1, "titleY": -7}},
     "y": {"field": "d", "type": "quantitative", "scale": {"domain": [0, 450], "reverse": true, "nice": false, "zero": false}, "axis": null}}},
   {"data": {"name": "zones"}, "mark": {"type": "rule", "color": "black", "strokeWidth": 1},
    "encoding": {"y": {"field": "z", "type": "quantitative", "scale": {"domain": [0, 450], "reverse": true, "nice": false, "zero": false}, "axis": null}}},
   {"data": {"values": [{"g":1,"o":1,"x":920,"y":-58.2},{"g":1,"o":2,"x":2207,"y":-133.2},{"g":1,"o":3,"x":5241,"y":-133.2},{"g":2,"o":1,"x":6069,"y":-133.2},{"g":2,"o":2,"x":9172,"y":-133.2},{"g":2,"o":3,"x":7770,"y":-51.7}]},
    "mark": {"type": "line", "color": "black", "strokeWidth": 0.8},
    "encoding": {"x": {"field": "x", "type": "quantitative", "scale": {"domain": [0, 2000], "range": [0, 87], "nice": false}, "axis": null}, "y": {"field": "y", "type": "quantitative", "scale": {"domain": [0, 450], "reverse": true, "nice": false, "zero": false}, "axis": null}, "detail": {"field": "g"}, "order": {"field": "o"}}},
   {"data": {"values": [{"x": 5655, "y": -133.2, "t": "Herbs"}]},
    "mark": {"type": "text", "align": "center", "baseline": "middle"},
    "encoding": {"x": {"field": "x", "type": "quantitative", "scale": {"domain": [0, 2000], "range": [0, 87], "nice": false}, "axis": null}, "y": {"field": "y", "type": "quantitative", "scale": {"domain": [0, 450], "reverse": true, "nice": false, "zero": false}, "axis": null}, "text": {"field": "t"}}}
  ],
  "resolve": {"axis": {"x": "independent", "y": "independent"}}},

 {"width": 101, "height": 348, "data": {"name": "Cyperaceae"},
  "layer": [
   {"mark": {"type": "area", "orient": "horizontal", "color": "#000080", "stroke": "black", "strokeWidth": 0.8},
    "encoding": {"x": {"field": "v", "type": "quantitative", "stack": null, "scale": {"domain": [0, 8000], "range": [0, 87], "nice": false}, "axis": {"orient": "bottom", "offset": 3, "values": [0,1000,2000,3000,4000,5000,6000,7000,8000], "labels": false, "tickSize": 3, "title": null}},
     "y": {"field": "d", "type": "quantitative", "scale": {"domain": [0, 450], "reverse": true, "nice": false, "zero": false}, "axis": {"orient": "left", "domainWidth": 1.5, "ticks": false, "labels": false, "title": null}}}},
   {"mark": {"type": "point", "opacity": 0},
    "encoding": {"x": {"field": "v", "type": "quantitative", "scale": {"domain": [0, 8000], "range": [0, 87], "nice": false}, "axis": {"orient": "bottom", "offset": 3, "values": [4000, 8000], "domain": false, "tickOpacity": 0, "tickSize": 3, "format": "d", "title": null}},
     "y": {"field": "d", "type": "quantitative", "scale": {"domain": [0, 450], "reverse": true, "nice": false, "zero": false}, "axis": null}}},
   {"mark": {"type": "point", "opacity": 0},
    "encoding": {"x": {"field": "v", "type": "quantitative", "scale": {"domain": [0, 8000], "range": [0, 87], "nice": false}, "axis": {"orient": "top", "offset": 2, "values": [0,1000,2000,3000,4000,5000,6000,7000,8000], "labels": false, "tickSize": 3, "title": "Cyperaceae", "titleAngle": -45, "titleAlign": "left", "titleBaseline": "alphabetic", "titleX": 1, "titleY": -7}},
     "y": {"field": "d", "type": "quantitative", "scale": {"domain": [0, 450], "reverse": true, "nice": false, "zero": false}, "axis": null}}},
   {"data": {"name": "zones"}, "mark": {"type": "rule", "color": "black", "strokeWidth": 1},
    "encoding": {"y": {"field": "z", "type": "quantitative", "scale": {"domain": [0, 450], "reverse": true, "nice": false, "zero": false}, "axis": null}}}
  ],
  "resolve": {"axis": {"x": "independent", "y": "independent"}}},

 {"width": 101, "height": 348, "data": {"name": "Chenopodiaceae"},
  "layer": [
   {"mark": {"type": "area", "orient": "horizontal", "color": "#000080", "stroke": "black", "strokeWidth": 0.8},
    "encoding": {"x": {"field": "v", "type": "quantitative", "stack": null, "scale": {"domain": [0, 1500], "range": [0, 87], "nice": false}, "axis": {"orient": "bottom", "offset": 3, "values": [0,187.5,375,562.5,750,937.5,1125,1312.5,1500], "labels": false, "tickSize": 3, "title": null}},
     "y": {"field": "d", "type": "quantitative", "scale": {"domain": [0, 450], "reverse": true, "nice": false, "zero": false}, "axis": {"orient": "left", "domainWidth": 1.5, "ticks": false, "labels": false, "title": null}}}},
   {"mark": {"type": "point", "opacity": 0},
    "encoding": {"x": {"field": "v", "type": "quantitative", "scale": {"domain": [0, 1500], "range": [0, 87], "nice": false}, "axis": {"orient": "bottom", "offset": 3, "values": [500, 1000, 1500], "domain": false, "tickOpacity": 0, "tickSize": 3, "format": "d", "title": null}},
     "y": {"field": "d", "type": "quantitative", "scale": {"domain": [0, 450], "reverse": true, "nice": false, "zero": false}, "axis": null}}},
   {"mark": {"type": "point", "opacity": 0},
    "encoding": {"x": {"field": "v", "type": "quantitative", "scale": {"domain": [0, 1500], "range": [0, 87], "nice": false}, "axis": {"orient": "top", "offset": 2, "values": [0,187.5,375,562.5,750,937.5,1125,1312.5,1500], "labels": false, "tickSize": 3, "title": "Chenopodiaceae", "titleAngle": -45, "titleAlign": "left", "titleBaseline": "alphabetic", "titleX": 1, "titleY": -7}},
     "y": {"field": "d", "type": "quantitative", "scale": {"domain": [0, 450], "reverse": true, "nice": false, "zero": false}, "axis": null}}},
   {"data": {"name": "zones"}, "mark": {"type": "rule", "color": "black", "strokeWidth": 1},
    "encoding": {"y": {"field": "z", "type": "quantitative", "scale": {"domain": [0, 450], "reverse": true, "nice": false, "zero": false}, "axis": null}}}
  ],
  "resolve": {"axis": {"x": "independent", "y": "independent"}}},

 {"width": 102, "height": 348, "data": {"name": "Artemisia"},
  "layer": [
   {"mark": {"type": "area", "orient": "horizontal", "color": "#000080", "stroke": "black", "strokeWidth": 0.8},
    "encoding": {"x": {"field": "v", "type": "quantitative", "stack": null, "scale": {"domain": [0, 8000], "range": [0, 87], "nice": false}, "axis": {"orient": "bottom", "offset": 3, "values": [0,1000,2000,3000,4000,5000,6000,7000,8000], "labels": false, "tickSize": 3, "title": null}},
     "y": {"field": "d", "type": "quantitative", "scale": {"domain": [0, 450], "reverse": true, "nice": false, "zero": false}, "axis": {"orient": "left", "domainWidth": 1.5, "ticks": false, "labels": false, "title": null}}}},
   {"mark": {"type": "point", "opacity": 0},
    "encoding": {"x": {"field": "v", "type": "quantitative", "scale": {"domain": [0, 8000], "range": [0, 87], "nice": false}, "axis": {"orient": "bottom", "offset": 3, "values": [4000, 8000], "domain": false, "tickOpacity": 0, "tickSize": 3, "format": "d", "title": null}},
     "y": {"field": "d", "type": "quantitative", "scale": {"domain": [0, 450], "reverse": true, "nice": false, "zero": false}, "axis": null}}},
   {"mark": {"type": "point", "opacity": 0},
    "encoding": {"x": {"field": "v", "type": "quantitative", "scale": {"domain": [0, 8000], "range": [0, 87], "nice": false}, "axis": {"orient": "top", "offset": 2, "values": [0,1000,2000,3000,4000,5000,6000,7000,8000], "labels": false, "tickSize": 3, "title": "Artemisia", "titleAngle": -45, "titleAlign": "left", "titleBaseline": "alphabetic", "titleX": 1, "titleY": -7}},
     "y": {"field": "d", "type": "quantitative", "scale": {"domain": [0, 450], "reverse": true, "nice": false, "zero": false}, "axis": null}}},
   {"data": {"name": "zones"}, "mark": {"type": "rule", "color": "black", "strokeWidth": 1},
    "encoding": {"y": {"field": "z", "type": "quantitative", "scale": {"domain": [0, 450], "reverse": true, "nice": false, "zero": false}, "axis": null}}}
  ],
  "resolve": {"axis": {"x": "independent", "y": "independent"}}},

 {"width": 106, "height": 348, "data": {"name": "TreesShrubs"},
  "layer": [
   {"mark": {"type": "area", "orient": "horizontal", "color": "#008000", "stroke": "black", "strokeWidth": 0.8},
    "encoding": {"x": {"field": "v", "type": "quantitative", "stack": null, "scale": {"domain": [0, 200000], "range": [0, 87], "nice": false}, "axis": {"orient": "bottom", "offset": 3, "values": [0,25000,50000,75000,100000,125000,150000,175000,200000], "labels": false, "tickSize": 3, "title": null}},
     "y": {"field": "d", "type": "quantitative", "scale": {"domain": [0, 450], "reverse": true, "nice": false, "zero": false}, "axis": {"orient": "left", "domainWidth": 1.5, "ticks": false, "labels": false, "title": null}}}},
   {"mark": {"type": "point", "opacity": 0},
    "encoding": {"x": {"field": "v", "type": "quantitative", "scale": {"domain": [0, 200000], "range": [0, 87], "nice": false}, "axis": {"orient": "bottom", "offset": 3, "values": [100000, 200000], "domain": false, "tickOpacity": 0, "tickSize": 3, "format": "d", "title": null}},
     "y": {"field": "d", "type": "quantitative", "scale": {"domain": [0, 450], "reverse": true, "nice": false, "zero": false}, "axis": null}}},
   {"mark": {"type": "point", "opacity": 0},
    "encoding": {"x": {"field": "v", "type": "quantitative", "scale": {"domain": [0, 200000], "range": [0, 87], "nice": false}, "axis": {"orient": "top", "offset": 2, "values": [0,25000,50000,75000,100000,125000,150000,175000,200000], "labels": false, "tickSize": 3, "title": "Trees and Shrubs", "titleAngle": -45, "titleAlign": "left", "titleBaseline": "alphabetic", "titleX": 1, "titleY": -7}},
     "y": {"field": "d", "type": "quantitative", "scale": {"domain": [0, 450], "reverse": true, "nice": false, "zero": false}, "axis": null}}},
   {"data": {"name": "zones"}, "mark": {"type": "rule", "color": "black", "strokeWidth": 1},
    "encoding": {"y": {"field": "z", "type": "quantitative", "scale": {"domain": [0, 450], "reverse": true, "nice": false, "zero": false}, "axis": null}}}
  ],
  "resolve": {"axis": {"x": "independent", "y": "independent"}}},

 {"width": 108, "height": 348, "data": {"name": "Herbs"},
  "layer": [
   {"mark": {"type": "area", "orient": "horizontal", "color": "#000080", "stroke": "black", "strokeWidth": 0.8},
    "encoding": {"x": {"field": "v", "type": "quantitative", "stack": null, "scale": {"domain": [0, 200000], "range": [0, 87], "nice": false}, "axis": {"orient": "bottom", "offset": 3, "values": [0,25000,50000,75000,100000,125000,150000,175000,200000], "labels": false, "tickSize": 3, "title": null}},
     "y": {"field": "d", "type": "quantitative", "scale": {"domain": [0, 450], "reverse": true, "nice": false, "zero": false}, "axis": {"orient": "left", "domainWidth": 1.5, "ticks": false, "labels": false, "title": null}}}},
   {"mark": {"type": "point", "opacity": 0},
    "encoding": {"x": {"field": "v", "type": "quantitative", "scale": {"domain": [0, 200000], "range": [0, 87], "nice": false}, "axis": {"orient": "bottom", "offset": 3, "values": [100000, 200000], "domain": false, "tickOpacity": 0, "tickSize": 3, "format": "d", "title": null}},
     "y": {"field": "d", "type": "quantitative", "scale": {"domain": [0, 450], "reverse": true, "nice": false, "zero": false}, "axis": null}}},
   {"mark": {"type": "point", "opacity": 0},
    "encoding": {"x": {"field": "v", "type": "quantitative", "scale": {"domain": [0, 200000], "range": [0, 87], "nice": false}, "axis": {"orient": "top", "offset": 2, "values": [0,25000,50000,75000,100000,125000,150000,175000,200000], "labels": false, "tickSize": 3, "title": "Herbs", "titleAngle": -45, "titleAlign": "left", "titleBaseline": "alphabetic", "titleX": 1, "titleY": -7}},
     "y": {"field": "d", "type": "quantitative", "scale": {"domain": [0, 450], "reverse": true, "nice": false, "zero": false}, "axis": null}}},
   {"data": {"name": "zones"}, "mark": {"type": "rule", "color": "black", "strokeWidth": 1},
    "encoding": {"y": {"field": "z", "type": "quantitative", "scale": {"domain": [0, 450], "reverse": true, "nice": false, "zero": false}, "axis": null}}}
  ],
  "resolve": {"axis": {"x": "independent", "y": "independent"}}},

 {"width": 33, "height": 348,
  "layer": [
   {"data": {"values": [{"x": 0, "y1": -18, "y2": 450}, {"x": 1, "y1": -18, "y2": 450}]},
    "mark": {"type": "rule", "color": "black", "strokeWidth": 1},
    "encoding": {"x": {"field": "x", "type": "quantitative", "scale": {"domain": [0, 1], "range": [0, 33], "nice": false}, "axis": null}, "y": {"field": "y1", "type": "quantitative", "scale": {"domain": [0, 450], "reverse": true, "nice": false, "zero": false}, "axis": null}, "y2": {"field": "y2"}}},
   {"data": {"name": "zones"}, "mark": {"type": "rule", "color": "black", "strokeWidth": 1},
    "encoding": {"y": {"field": "z", "type": "quantitative", "scale": {"domain": [0, 450], "reverse": true, "nice": false, "zero": false}, "axis": null}}},
   {"data": {"values": [{"x": 0.5, "y": -14, "t": "Zone"}, {"x": 0.5, "y": 17, "t": "IV"}, {"x": 0.5, "y": 77, "t": "III"}, {"x": 0.5, "y": 187, "t": "II"}, {"x": 0.5, "y": 351, "t": "I"}]},
    "mark": {"type": "text", "align": "center", "baseline": "middle"},
    "encoding": {"x": {"field": "x", "type": "quantitative", "scale": {"domain": [0, 1], "range": [0, 33], "nice": false}, "axis": null}, "y": {"field": "y", "type": "quantitative", "scale": {"domain": [0, 450], "reverse": true, "nice": false, "zero": false}, "axis": null}, "text": {"field": "t"}}}
  ]}
]
}
